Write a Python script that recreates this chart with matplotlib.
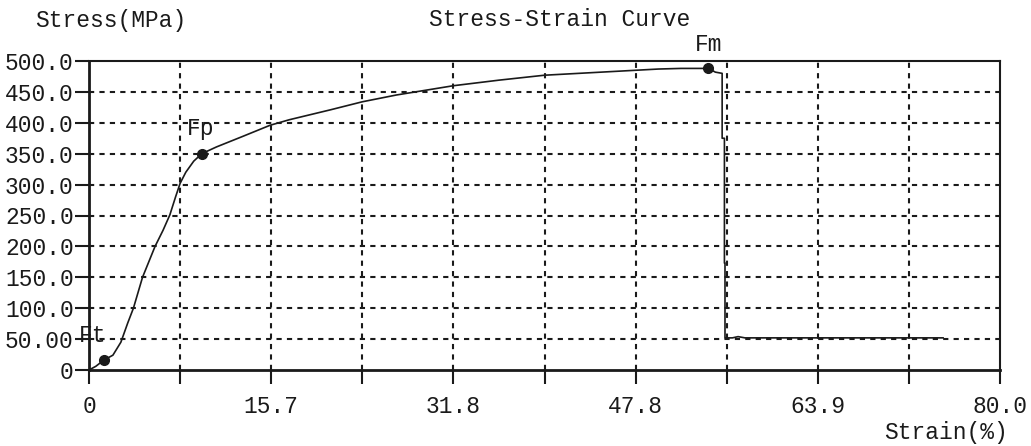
import matplotlib
matplotlib.use("Agg")
import matplotlib.pyplot as plt

# ---- data ----
strain = [0.0, 0.6, 1.3, 2.1, 2.8, 3.4, 3.9, 4.7, 5.8, 6.5, 7.1, 7.6, 8.0, 8.5, 9.2, 9.9, 11.2,
          13.5, 15.9, 17.6, 21.2, 24.0, 27.0, 29.0, 32.0, 36.0, 40.0, 44.0, 48.0,
          50.0, 52.0, 54.4, 55.0, 55.6, 55.6, 55.8, 55.8, 55.85, 55.85, 56.5, 57.0, 57.6, 75.0]
stress = [0.0, 6.0, 16.0, 24.0, 45.0, 76.0, 100.0, 150.0, 200.0, 226.0, 251.0, 280.0, 302.0, 320.0, 338.0, 350.0, 361.0,
          378.0, 396.0, 405.0, 421.0, 434.0, 445.0, 451.0, 460.0, 469.0, 477.0, 481.0, 485.0,
          487.0, 488.0, 488.0, 482.0, 480.0, 375.0, 375.0, 173.0, 173.0, 52.0, 52.0, 54.0, 52.0, 52.0]
point_names = ["Ft", "Fp", "Fm"]
point_strain = [1.3, 9.9, 54.4]
point_stress = [16.0, 350.0, 488.0]
xtick_vals = [0, 8, 16, 24, 32, 40, 48, 56, 64, 72, 80]
xtick_labels = ["0", "", "15.7", "", "31.8", "", "47.8", "", "63.9", "", "80.0"]
ytick_vals = [0, 50, 100, 150, 200, 250, 300, 350, 400, 450, 500]
ytick_labels = ["0", "50.00", "100.0", "150.0", "200.0", "250.0", "300.0",
                "350.0", "400.0", "450.0", "500.0"]

FONT = "Liberation Mono"
FS = 16.5
INK = "#1a1a1a"

fig = plt.figure(figsize=(10.31, 4.46), dpi=100)
ax = fig.add_axes([89/1031, 1-370/446, (1000-89)/1031, (370-61)/446])

ax.plot(strain, stress, color=INK, lw=1.2, zorder=3)
ax.plot(point_strain, point_stress, "o", color=INK, ms=7, zorder=4)

offsets = [(-2.2, 22), (-1.3, 22), (-1.2, 20)]
for n, px, py, (dx, dy) in zip(point_names, point_strain, point_stress, offsets):
    ax.text(px + dx, py + dy, n, family=FONT, fontsize=FS, color=INK,
            ha="left", va="bottom", clip_on=False, zorder=5)

ax.set_xlim(0, 80)
ax.set_ylim(0, 500)
ax.set_xticks(xtick_vals)
ax.set_xticklabels(xtick_labels, family=FONT, fontsize=FS, color=INK)
ax.set_yticks(ytick_vals)
ax.set_yticklabels(ytick_labels, family=FONT, fontsize=FS, color=INK)
ax.tick_params(axis="both", direction="out", length=10, width=1.5, color=INK)
ax.tick_params(axis="x", pad=8)
ax.tick_params(axis="y", pad=1)

for v in xtick_vals[1:-1]:
    ax.axvline(v, color=INK, lw=1.5, ls=(0, (2.5, 2.5)), zorder=1)
for v in ytick_vals[1:-1]:
    ax.axhline(v, color=INK, lw=1.5, ls=(0, (2.5, 2.5)), zorder=1)

for s in ["left", "bottom"]:
    ax.spines[s].set_linewidth(2.0)
    ax.spines[s].set_color(INK)
for s in ["top", "right"]:
    ax.spines[s].set_linewidth(1.5)
    ax.spines[s].set_color(INK)

fig.text(35/1031, 1-20/446, "Stress(MPa)", family=FONT, fontsize=FS, color=INK,
         ha="left", va="center")
fig.text(560/1031, 1-20/446, "Stress-Strain Curve", family=FONT, fontsize=FS, color=INK,
         ha="center", va="center")
fig.text(1008/1031, 1-433/446, "Strain(%)", family=FONT, fontsize=FS, color=INK,
         ha="right", va="center")

fig.savefig("out.png", dpi=100, facecolor="white")
